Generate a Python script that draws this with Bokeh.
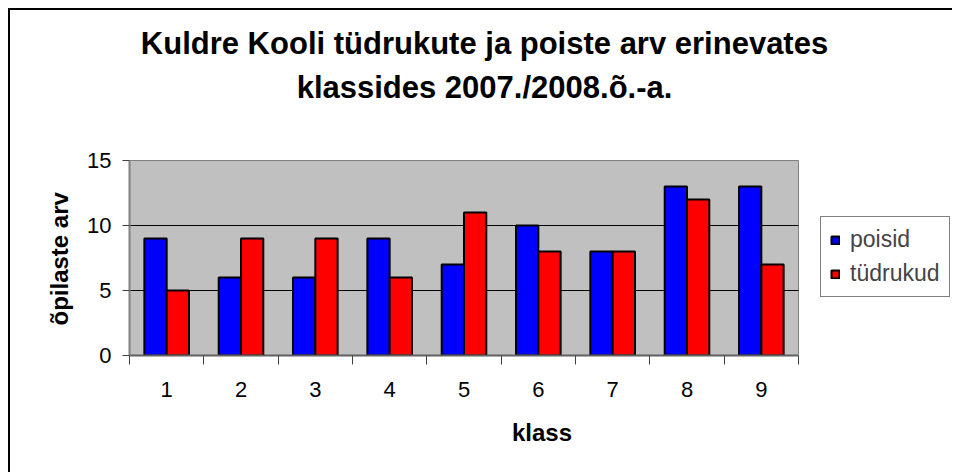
import numpy as np
from bokeh.plotting import figure
from bokeh.models import (ColumnDataSource, Range1d, FixedTicker, Legend, LegendItem, Label, Title)
from bokeh.transform import dodge
from bokeh.embed import file_html
from bokeh.resources import INLINE

classes = ["1", "2", "3", "4", "5", "6", "7", "8", "9"]
poisid = [9, 6, 6, 9, 7, 10, 8, 13, 13]
tudrukud = [5, 9, 9, 6, 11, 8, 8, 12, 7]
y_ticks = [0, 5, 10, 15]
title_lines = ["Kuldre Kooli tüdrukute ja poiste arv erinevates", "klassides 2007./2008.õ.-a."]
x_label = "klass"
y_label = "õpilaste arv"
series_names = ["poisid", "tüdrukud"]

# ---- layout constants (pixels, canvas coordinates) ----
W, H = 944, 464
LEFT, BOTTOM = 119, 119          # side panels for the axes
AREA_W, AREA_H = 669, 195        # size of the grey plot area
FONT = "Liberation Sans"

n = len(classes)
ymax = y_ticks[-1]
frame_w, frame_h = W - LEFT, H - BOTTOM
x_end = 0.5 + n * frame_w / AREA_W
y_end = ymax * frame_h / AREA_H

xs = list(range(1, n + 1))
src = ColumnDataSource(dict(x=xs, poisid=poisid, tudrukud=tudrukud))

p = figure(width=W, height=H, output_backend="svg", toolbar_location=None, title=None,
           x_range=Range1d(0.5, x_end), y_range=Range1d(0, y_end),
           min_border_left=LEFT, min_border_right=0, min_border_top=0, min_border_bottom=BOTTOM)
p.styles = {"margin-left": "8px", "margin-top": "8px",
            "border-left": "2px solid black", "border-top": "2px solid black"}
p.background_fill_color = "white"
p.border_fill_color = "white"
p.outline_line_color = None
p.xgrid.grid_line_color = None
p.ygrid.grid_line_color = None

# grey plot area
p.quad(left=0.5, right=n + 0.5, bottom=0, top=ymax, fill_color="#c0c0c0",
       line_color="#808080", line_width=1, level="image")
# grid lines
gy = y_ticks[1:-1]
p.segment(x0=[0.5] * len(gy), x1=[n + 0.5] * len(gy), y0=gy, y1=gy,
          line_color="black", line_width=1)

r1 = p.vbar(x=dodge("x", -0.15, range=p.x_range), top="poisid", width=0.3, source=src,
            fill_color="#0000ff", line_color="black", line_width=2)
r2 = p.vbar(x=dodge("x", 0.15, range=p.x_range), top="tudrukud", width=0.3, source=src,
            fill_color="#ff0000", line_color="black", line_width=2)

# axes
xa = p.xaxis[0]
xa.bounds = (0.5, n + 0.5)
xa.ticker = FixedTicker(ticks=xs, minor_ticks=[x - 0.5 for x in xs] + [xs[-1] + 0.5])
xa.major_label_overrides = {x: c for x, c in zip(xs, classes)}
xa.major_tick_out = 0
xa.major_tick_in = 0
xa.minor_tick_out = 9
xa.minor_tick_in = 0
xa.minor_tick_line_color = "#404040"
xa.axis_line_color = "#606060"
xa.axis_line_width = 2
xa.major_label_text_font = FONT
xa.major_label_text_font_size = "22px"
xa.major_label_text_color = "black"
xa.major_label_standoff = 17
xa.axis_label = x_label
xa.axis_label_text_font = FONT
xa.axis_label_text_font_style = "bold"
xa.axis_label_text_font_size = "24px"
xa.axis_label_text_color = "black"
xa.axis_label_standoff = 19

ya = p.yaxis[0]
ya.bounds = (0, ymax)
ya.ticker = FixedTicker(ticks=y_ticks)
ya.major_tick_out = 7
ya.major_tick_in = 0
ya.minor_tick_out = 0
ya.minor_tick_in = 0
ya.major_tick_line_color = "#404040"
ya.axis_line_color = "#808080"
ya.axis_line_width = 2
ya.major_label_text_font = FONT
ya.major_label_text_font_size = "22px"
ya.major_label_text_color = "black"
ya.major_label_standoff = 11

# y-axis title, placed along the grey area (not the whole frame)
p.add_layout(Title(text=y_label, align="left", offset=30, vertical_align="middle", standoff=22,
                   text_font=FONT, text_font_style="bold", text_font_size="24px",
                   text_color="black"), "left")

# legend (inside the frame, right of the grey area)
legend = Legend(items=[LegendItem(label=series_names[0], renderers=[r1]),
                       LegendItem(label=series_names[1], renderers=[r2])],
                location=(691, 58), orientation="vertical",
                border_line_color="black", border_line_width=1,
                background_fill_color="white", background_fill_alpha=1,
                padding=9, margin=0, spacing=7,
                glyph_width=10, glyph_height=10, label_standoff=10,
                label_text_font=FONT, label_text_font_size="23px")
p.add_layout(legend, "center")

# title
for t, yy in zip(title_lines, [31, 75]):
    p.add_layout(Label(x=472, y=yy, x_units="canvas", y_units="canvas", text=t,
                       text_font=FONT, text_font_style="bold", text_font_size="31px",
                       text_align="center", text_baseline="alphabetic", text_color="black"))

open("out.html", "w").write(file_html(p, INLINE))
